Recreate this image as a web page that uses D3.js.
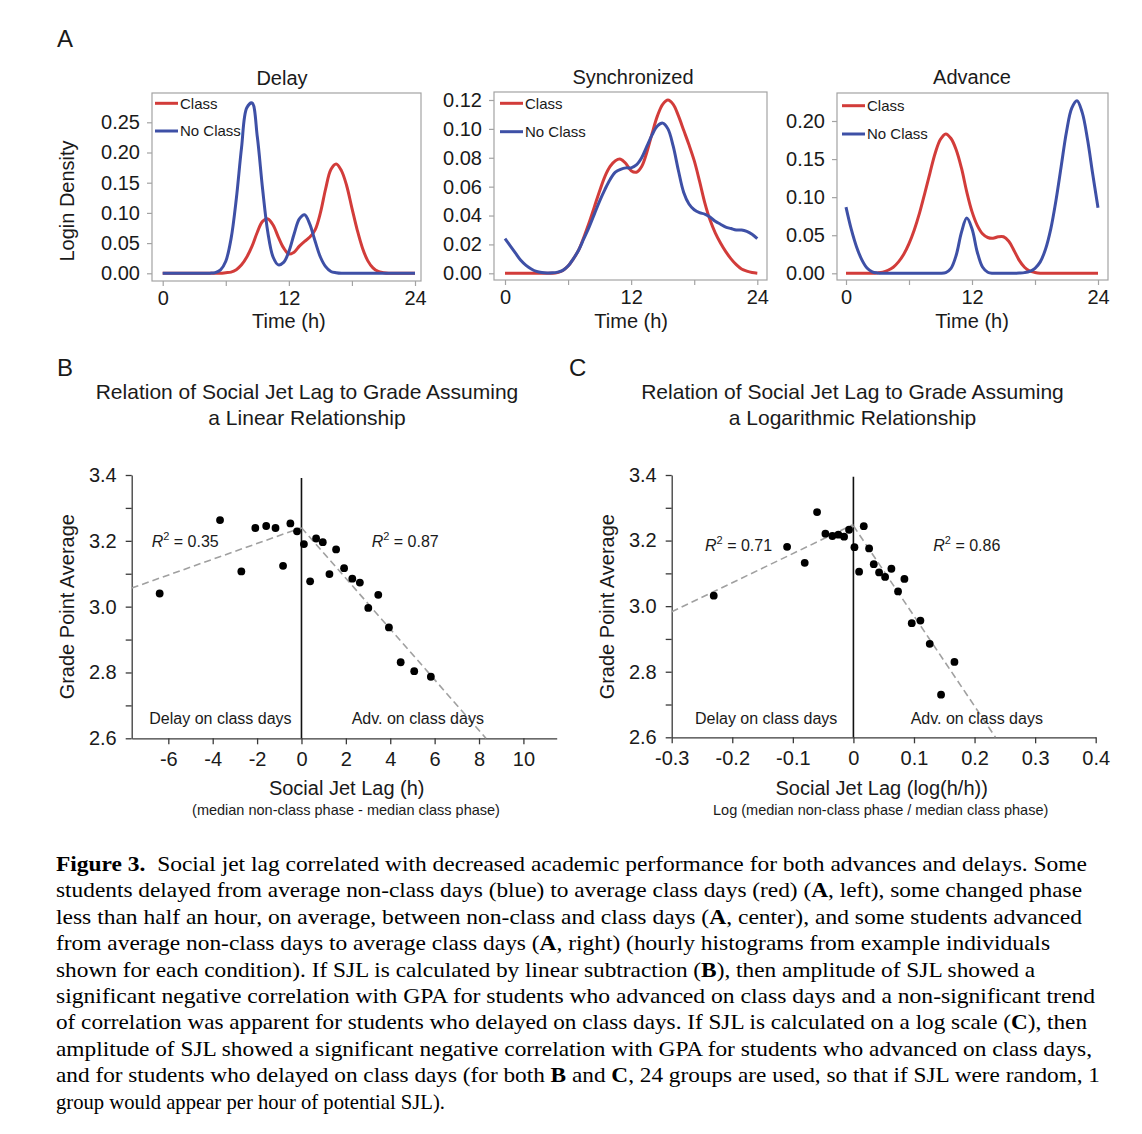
<!DOCTYPE html>
<html>
<head>
<meta charset="utf-8">
<script src="https://cdnjs.cloudflare.com/ajax/libs/d3/7.8.5/d3.min.js"></script>
<style>
  body { margin: 0; background: #fff; }
  text { font-family: "Liberation Sans", Arial, sans-serif; fill: #1a1a1a; }
  .cap text, text.cap { font-family: "Liberation Serif", "Times New Roman", serif; fill: #000; }
</style>
</head>
<body>
<svg id="fig" width="1142" height="1134"></svg>
<script>
// ---- panel A : login density, sampled every half hour from 0 to 24 h ----
const hours = d3.range(0, 24.01, 0.5);

const delayClass = [0,0,0,0,0,0,0,0,0,0,0,0,
  0.001,0.002,0.006,0.014,0.027,0.045,0.068,0.086,0.090,0.080,0.060,0.042,0.032,0.035,0.045,0.053,
  0.060,0.072,0.100,0.140,0.172,0.181,0.170,0.145,0.108,0.072,0.042,0.021,0.009,0.003,0.001,
  0,0,0,0,0,0];
const delayNoClass = [0,0,0,0,0,0,0,0,0,
  0.0002,0.0012,0.0057,0.020,0.057,0.123,0.208,0.274,0.282,0.226,0.140,0.068,0.027,0.014,0.018,
  0.036,0.065,0.090,0.097,0.081,0.053,0.027,0.011,0.003,0.001,
  0,0,0,0,0,0,0,0,0,0,0,0,0,0,0];

const syncClass = [0,0,0,0,0,0,0,0,0,0,
  0.0005,0.002,0.005,0.010,0.016,0.025,0.035,0.046,0.057,0.067,0.074,0.078,0.079,0.076,0.071,0.070,
  0.074,0.084,0.097,0.109,0.117,0.120,0.117,0.109,0.099,0.089,0.078,0.064,0.049,0.037,0.028,0.021,
  0.015,0.010,0.006,0.003,0.0015,0.0005,0];
const syncNoClass = [0.024,0.019,0.014,0.009,0.0055,0.003,0.0013,0.0005,0.0002,0.0003,0.0008,0.002,
  0.005,0.010,0.016,0.024,0.032,0.041,0.050,0.058,0.065,0.070,0.072,0.073,0.073,0.075,0.080,0.088,
  0.096,0.102,0.104,0.100,0.088,0.071,0.056,0.048,0.044,0.042,0.041,0.039,0.036,0.034,0.032,0.031,
  0.030,0.030,0.029,0.027,0.024];

const advClass = [0,0,0,0,0,0,
  0.0005,0.0015,0.004,0.008,0.015,0.025,0.039,0.057,0.079,0.105,0.132,0.158,0.176,0.183,0.177,0.162,
  0.138,0.107,0.081,0.063,0.052,0.047,0.046,0.048,0.048,0.042,0.030,0.017,0.008,0.003,0.001,
  0,0,0,0,0,0,0,0,0,0,0,0];
const advNoClass = [0.087,0.058,0.035,0.018,0.007,0.002,0.0005,
  0,0,0,0,0,0,0,0,0,0,0,0,
  0.001,0.0065,0.024,0.054,0.0725,0.0585,0.028,0.0082,0.0014,0.0001,
  0,0,0,0,
  0.0003,0.0009,0.0025,0.0066,0.015,0.0316,0.058,0.096,0.141,0.186,0.217,0.2267,0.211,0.176,0.130,0.086];

const timeTicks = [0, 6, 12, 18, 24];
const delayTicks = [0, 0.05, 0.10, 0.15, 0.20, 0.25];
const syncTicks = [0, 0.02, 0.04, 0.06, 0.08, 0.10, 0.12];
const advTicks = [0, 0.05, 0.10, 0.15, 0.20];

// ---- panel B : linear SJL vs GPA ----
const sjlLinear = [-6.39,-3.67,-2.71,-2.08,-1.59,-1.17,-0.83,-0.50,-0.20,0.11,0.39,0.66,
  0.96,1.26,1.56,1.92,2.29,2.63,3.01,3.46,3.94,4.47,5.08,5.83];
const gpaLinear = [3.040,3.263,3.107,3.239,3.245,3.239,3.124,3.253,3.229,3.190,3.077,3.207,
  3.196,3.099,3.174,3.117,3.085,3.073,2.996,3.036,2.937,2.831,2.804,2.787];
// fitted lines: [from, to, intercept, slope]
const fitLinear = [[-7.65, 0, 3.24, 0.024], [0, 8.31, 3.24, -0.077]];
const r2Linear = ["0.35", "0.87"];

// ---- panel C : log SJL vs GPA ----
const sjlLog = [-0.2306,-0.1095,-0.0804,-0.0600,-0.0462,-0.0347,-0.0248,-0.0154,-0.0072,0.0017,
  0.0094,0.0171,0.0259,0.0336,0.0424,0.0523,0.0627,0.0737,0.0842,0.0963,0.1106,0.1260,0.1447,0.1668];
const gpaLog = [3.032,3.181,3.132,3.287,3.221,3.214,3.218,3.212,3.233,3.180,3.105,3.244,3.176,
  3.128,3.103,3.089,3.114,3.045,3.083,2.948,2.956,2.885,2.730,2.830];
const fitLog = [[-0.3, 0, 3.249, 0.887], [0, 0.2345, 3.245, -2.75]];
const r2Log = ["0.71", "0.86"];

const gpaTicks = d3.range(26, 35).map(d => d / 10);
const sjlLinearTicks = [-6, -4, -2, 0, 2, 4, 6, 8, 10];
const sjlLogTicks = [-0.3, -0.2, -0.1, 0, 0.1, 0.2, 0.3, 0.4];

const RED = "#d23c3a", BLUE = "#3e50a6";
const svg = d3.select("#fig");

// panel letters
[["A", 57, 47], ["B", 57, 376], ["C", 569, 376]].forEach(p => {
  svg.append("text").attr("x", p[1]).attr("y", p[2]).attr("font-size", 24).text(p[0]);
});

// ================= Panel A =================
const densityPanels = [
  { title: "Delay", cls: delayClass, noCls: delayNoClass, ticks: delayTicks, top: 0.25, topPx: 122.3,
    frame: [152, 93, 421, 281], x0: 162.7, x24: 415, titleX: 282, titleY: 85, legX: 155, legY: [103.3, 131] },
  { title: "Synchronized", cls: syncClass, noCls: syncNoClass, ticks: syncTicks, top: 0.12, topPx: 100,
    frame: [494, 92, 767, 280], x0: 505, x24: 757.3, titleX: 633, titleY: 83.5, legX: 500, legY: [103.3, 131.7] },
  { title: "Advance", cls: advClass, noCls: advNoClass, ticks: advTicks, top: 0.20, topPx: 121,
    frame: [837, 93, 1108, 280], x0: 846, x24: 1098, titleX: 972, titleY: 83.5, legX: 842, legY: [105.7, 134] }
];

densityPanels.forEach(p => {
  const g = svg.append("g");
  const x = d3.scaleLinear().domain([0, 24]).range([p.x0, p.x24]);
  const y = d3.scaleLinear().domain([0, p.top]).range([273.3, p.topPx]);
  const [fl, ft, fr, fb] = p.frame;

  g.append("rect").attr("x", fl).attr("y", ft).attr("width", fr - fl).attr("height", fb - ft)
    .attr("fill", "none").attr("stroke", "#a3a3a3").attr("stroke-width", 1.2);

  const yAxis = g.append("g").attr("transform", `translate(${fl},0)`)
    .call(d3.axisLeft(y).tickValues(p.ticks).tickSize(5).tickPadding(7).tickFormat(d3.format(".2f")));
  const xAxis = g.append("g").attr("transform", `translate(0,${fb})`)
    .call(d3.axisBottom(x).tickValues(timeTicks).tickSize(5).tickPadding(5)
      .tickFormat(d => d % 12 === 0 ? d : ""));
  [yAxis, xAxis].forEach(a => {
    a.select(".domain").remove();
    a.selectAll("line").attr("stroke", "#a3a3a3").attr("stroke-width", 1.2);
    a.selectAll("text").attr("font-size", 20).attr("fill", "#1a1a1a")
      .style("font-family", '"Liberation Sans", Arial, sans-serif');
  });

  const line = d3.line().x((d, i) => x(hours[i])).y(d => y(d)).curve(d3.curveCatmullRom.alpha(0.5));
  g.append("path").datum(p.cls).attr("d", line).attr("fill", "none")
    .attr("stroke", RED).attr("stroke-width", 3).attr("stroke-linejoin", "round");
  g.append("path").datum(p.noCls).attr("d", line).attr("fill", "none")
    .attr("stroke", BLUE).attr("stroke-width", 3).attr("stroke-linejoin", "round");

  // legend
  [["Class", RED], ["No Class", BLUE]].forEach((l, i) => {
    g.append("line").attr("x1", p.legX).attr("x2", p.legX + 23)
      .attr("y1", p.legY[i]).attr("y2", p.legY[i]).attr("stroke", l[1]).attr("stroke-width", 3);
    g.append("text").attr("x", p.legX + 25).attr("y", p.legY[i]).attr("dy", "0.36em")
      .attr("font-size", 15).text(l[0]);
  });

  g.append("text").attr("x", p.titleX).attr("y", p.titleY).attr("text-anchor", "middle")
    .attr("font-size", 20).text(p.title);
  g.append("text").attr("x", (p.x0 + p.x24) / 2).attr("y", 328).attr("text-anchor", "middle")
    .attr("font-size", 20).text("Time (h)");
});

svg.append("text").attr("transform", "translate(74,201) rotate(-90)").attr("text-anchor", "middle")
  .attr("font-size", 20).text("Login Density");

// ================= Panels B and C =================
const scatterPanels = [
  { xs: sjlLinear, ys: gpaLinear, fits: fitLinear, r2: r2Linear, xTicks: sjlLinearTicks,
    xDomain: [-7.65, 11.5], xRange: [131.7, 556.7], yRange: [738.3, 475], zeroTop: 478,
    fmt: d => String(d), cx: 307, titles: ["Relation of Social Jet Lag to Grade Assuming", "a Linear Relationship"],
    yLabX: 74, xLab: "Social Jet Lag (h)", xLabX: 346.7, sub: "(median non-class phase - median class phase)", subX: 346,
    r2Pos: [[151.7, 547.3], [371.7, 547.3]], notes: [[149.3, 724], [351.7, 724]] },
  { xs: sjlLog, ys: gpaLog, fits: fitLog, r2: r2Log, xTicks: sjlLogTicks,
    xDomain: [-0.3, 0.4], xRange: [671.7, 1095.7], yRange: [737.3, 475], zeroTop: 476.7,
    fmt: d => d === 0 ? "0" : d.toFixed(1), cx: 852.5,
    titles: ["Relation of Social Jet Lag to Grade Assuming", "a Logarithmic Relationship"],
    yLabX: 614, xLab: "Social Jet Lag (log(h/h))", xLabX: 881.7, sub: "Log (median non-class phase / median class phase)", subX: 880.7,
    r2Pos: [[705, 550.7], [933.3, 550.7]], notes: [[695, 724], [910.7, 724]] }
];

scatterPanels.forEach(p => {
  const g = svg.append("g");
  const x = d3.scaleLinear().domain(p.xDomain).range(p.xRange);
  const y = d3.scaleLinear().domain([2.6, 3.4]).range(p.yRange);

  p.titles.forEach((t, i) => {
    g.append("text").attr("x", p.cx).attr("y", 399 + i * 26).attr("text-anchor", "middle")
      .attr("font-size", 21).text(t);
  });

  const yAxis = g.append("g").attr("transform", `translate(${p.xRange[0]},0)`)
    .call(d3.axisLeft(y).tickValues(gpaTicks).tickSize(6).tickSizeOuter(0).tickPadding(9)
      .tickFormat(d => Math.round(d * 10) % 2 === 0 ? d.toFixed(1) : ""));
  const xAxis = g.append("g").attr("transform", `translate(0,${p.yRange[0]})`)
    .call(d3.axisBottom(x).tickValues(p.xTicks).tickSize(6).tickSizeOuter(0).tickPadding(8).tickFormat(p.fmt));
  [yAxis, xAxis].forEach(a => {
    a.select(".domain").attr("stroke", "#3a3a3a").attr("stroke-width", 1.3);
    a.selectAll("line").attr("stroke", "#3a3a3a").attr("stroke-width", 1.3);
    a.selectAll("text").attr("font-size", 20).attr("fill", "#1a1a1a")
      .style("font-family", '"Liberation Sans", Arial, sans-serif');
  });

  // zero line
  g.append("line").attr("x1", x(0)).attr("x2", x(0)).attr("y1", p.zeroTop).attr("y2", p.yRange[0])
    .attr("stroke", "#111").attr("stroke-width", 1.6);

  // fitted lines
  p.fits.forEach(f => {
    g.append("line").attr("x1", x(f[0])).attr("y1", y(f[2] + f[3] * f[0]))
      .attr("x2", x(f[1])).attr("y2", y(f[2] + f[3] * f[1]))
      .attr("stroke", "#a0a0a0").attr("stroke-width", 1.6).attr("stroke-dasharray", "7,4");
  });

  g.selectAll("circle").data(p.xs).join("circle")
    .attr("cx", d => x(d)).attr("cy", (d, i) => y(p.ys[i])).attr("r", 3.9).attr("fill", "#000");

  p.r2.forEach((r, i) => {
    const t = g.append("text").attr("x", p.r2Pos[i][0]).attr("y", p.r2Pos[i][1]).attr("font-size", 16);
    t.append("tspan").attr("font-style", "italic").text("R");
    t.append("tspan").attr("font-size", 11).attr("dy", -7).text("2");
    t.append("tspan").attr("dy", 7).text(" = " + r);
  });

  ["Delay on class days", "Adv. on class days"].forEach((s, i) => {
    g.append("text").attr("x", p.notes[i][0]).attr("y", p.notes[i][1]).attr("font-size", 16).text(s);
  });

  g.append("text").attr("transform", `translate(${p.yLabX},606.7) rotate(-90)`).attr("text-anchor", "middle")
    .attr("font-size", 20).text("Grade Point Average");
  g.append("text").attr("x", p.xLabX).attr("y", 795).attr("text-anchor", "middle")
    .attr("font-size", 20).text(p.xLab);
  g.append("text").attr("x", p.subX).attr("y", 815).attr("text-anchor", "middle")
    .attr("font-size", 14.5).text(p.sub);
});

// ================= Caption =================
const captionLines = [
  [["Figure 3.", 1], ["  Social jet lag correlated with decreased academic performance for both advances and delays. Some", 0]],
  [["students delayed from average non-class days (blue) to average class days (red) (", 0], ["A", 1], [", left), some changed phase", 0]],
  [["less than half an hour, on average, between non-class and class days (", 0], ["A", 1], [", center), and some students advanced", 0]],
  [["from average non-class days to average class days (", 0], ["A", 1], [", right) (hourly histograms from example individuals", 0]],
  [["shown for each condition). If SJL is calculated by linear subtraction (", 0], ["B", 1], ["), then amplitude of SJL showed a", 0]],
  [["significant negative correlation with GPA for students who advanced on class days and a non-significant trend", 0]],
  [["of correlation was apparent for students who delayed on class days. If SJL is calculated on a log scale (", 0], ["C", 1], ["), then", 0]],
  [["amplitude of SJL showed a significant negative correlation with GPA for students who advanced on class days,", 0]],
  [["and for students who delayed on class days (for both ", 0], ["B", 1], [" and ", 0], ["C", 1], [", 24 groups are used, so that if SJL were random, 1", 0]],
  [["group would appear per hour of potential SJL).", 0]]
];
const captionEnds = [1087, 1082, 1082, 1050, 1035, 1095, 1087, 1092, 1100, 445];

const cap = svg.append("g").attr("class", "cap");
captionLines.forEach((segs, i) => {
  const t = cap.append("text").attr("x", 56).attr("y", 870.7 + i * 26.45).attr("font-size", 21)
    .attr("xml:space", "preserve").style("white-space", "pre")
    .attr("textLength", captionEnds[i] - 56).attr("lengthAdjust", "spacingAndGlyphs");
  segs.forEach(s => t.append("tspan").attr("font-weight", s[1] ? "bold" : null).text(s[0]));
});
</script>
</body>
</html>
